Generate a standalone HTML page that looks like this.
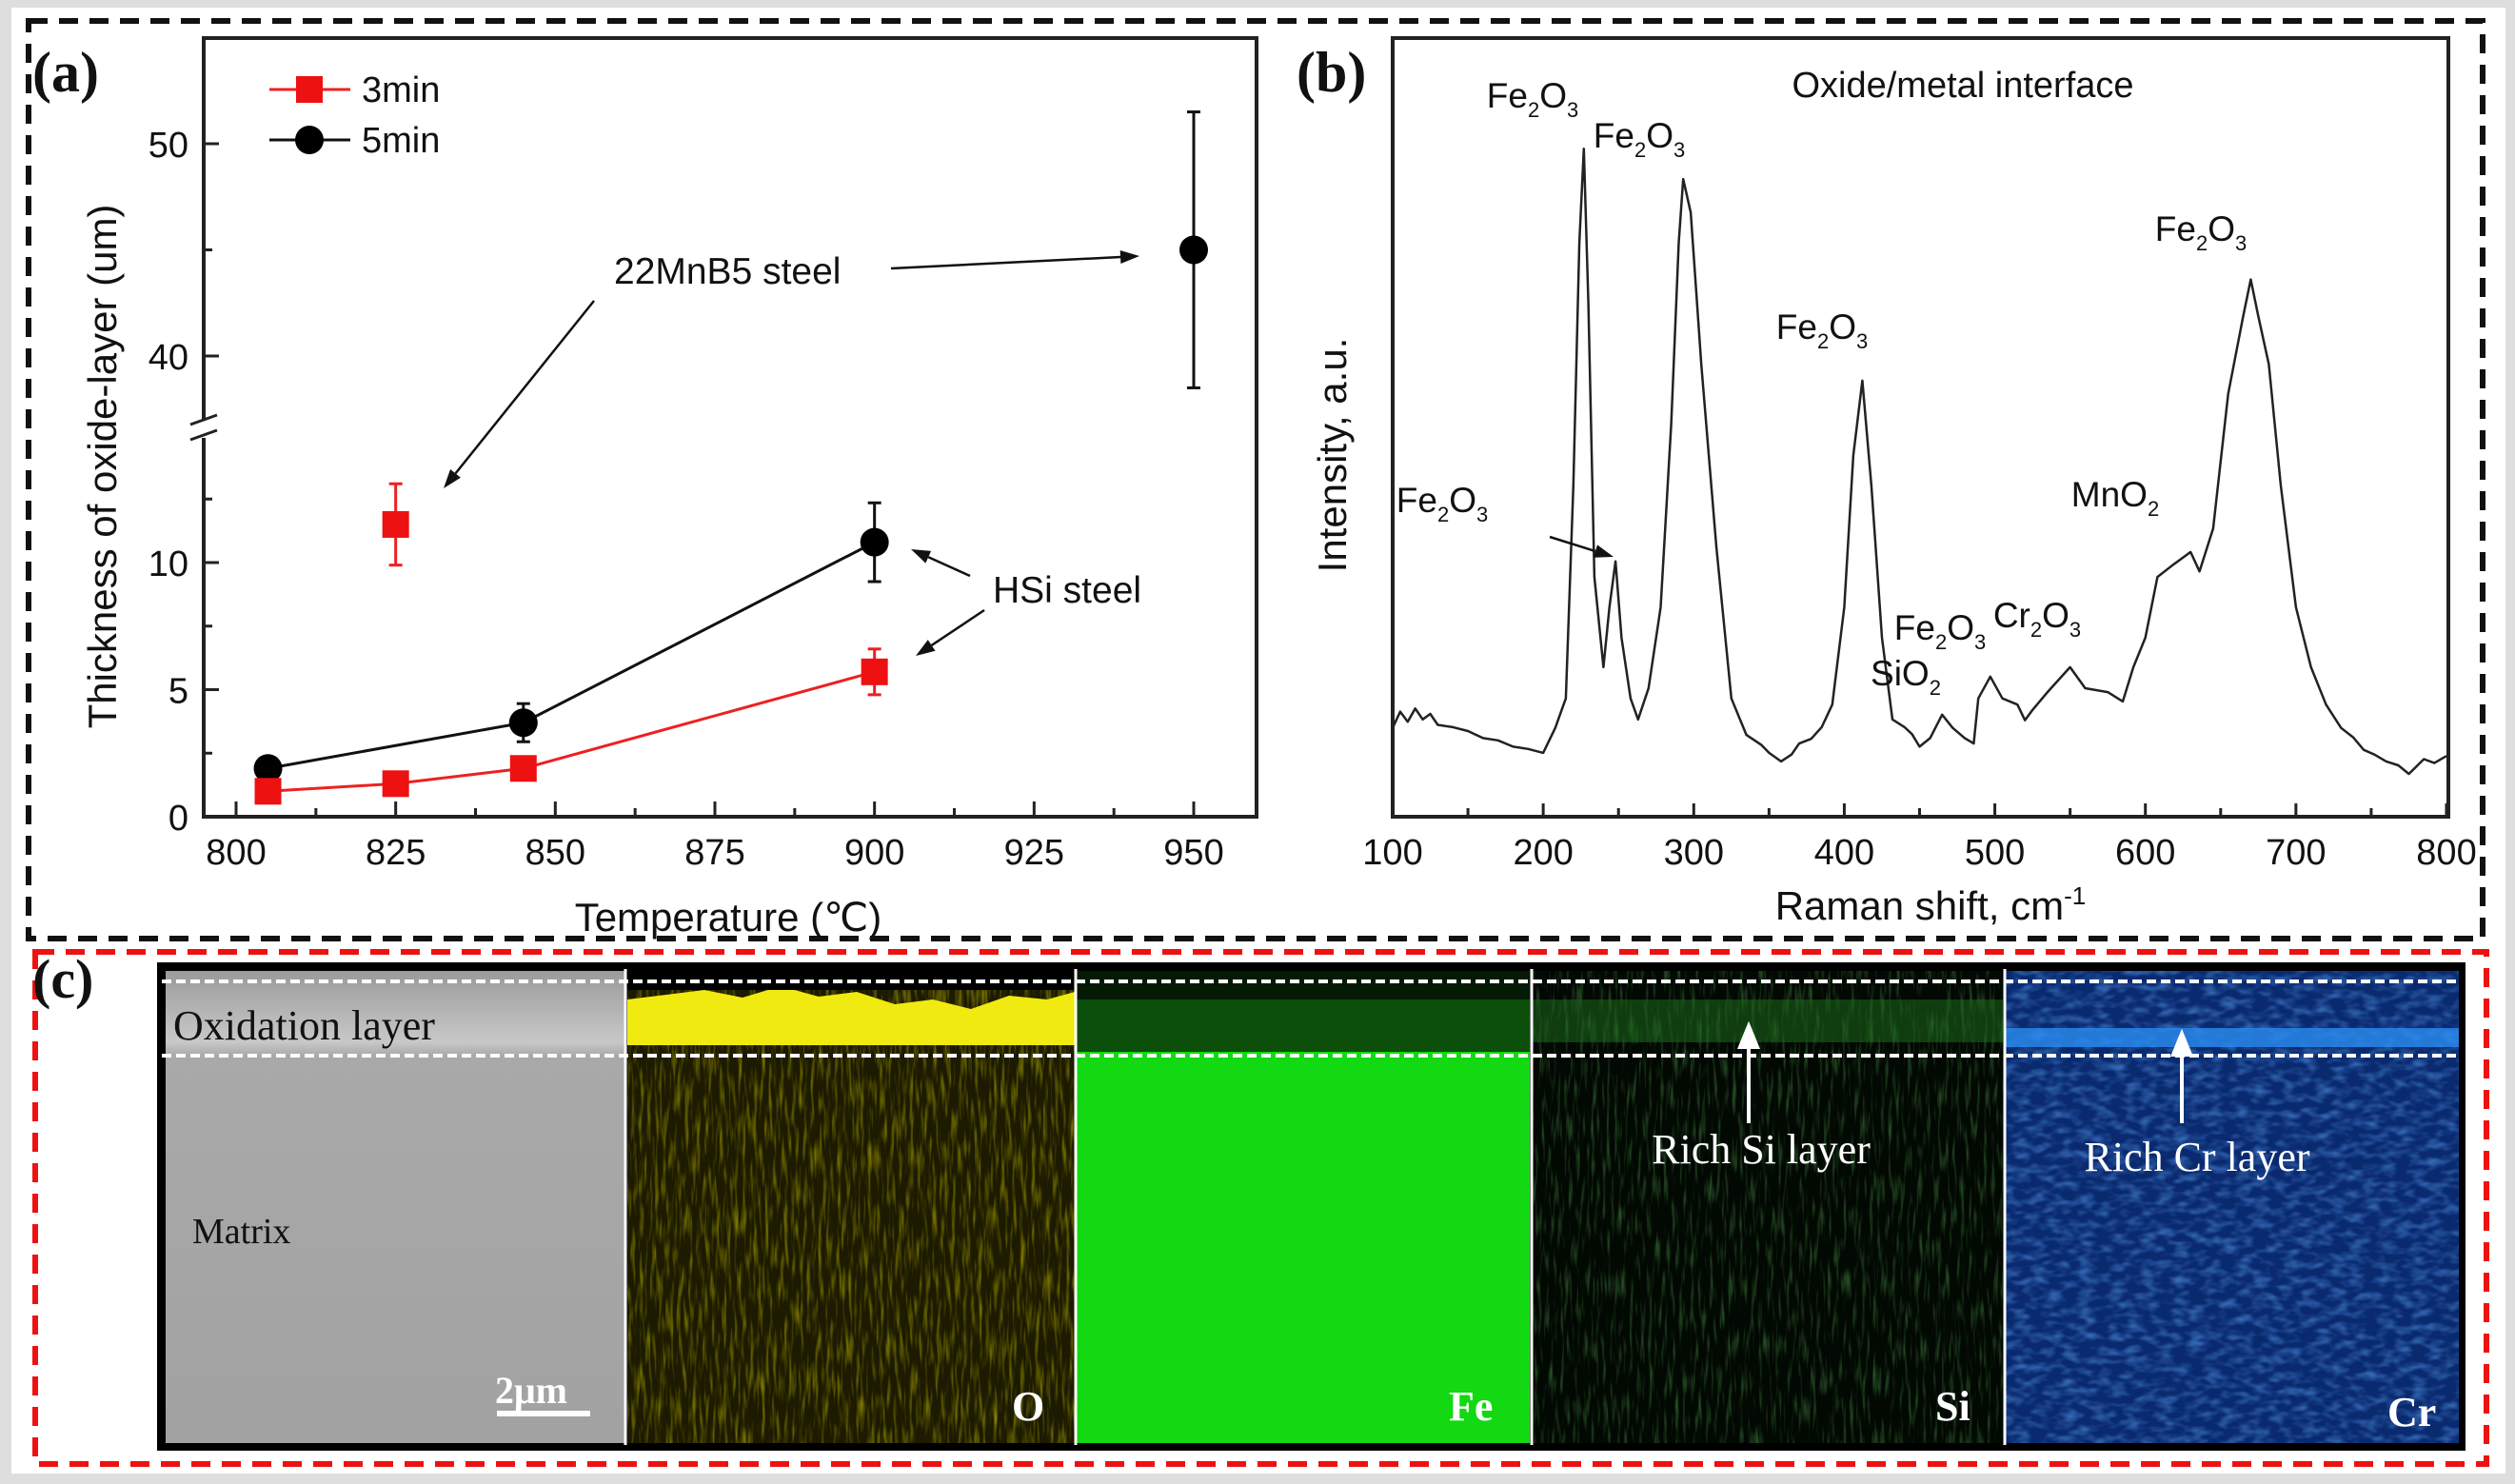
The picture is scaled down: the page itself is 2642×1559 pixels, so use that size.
<!DOCTYPE html>
<html><head><meta charset="utf-8">
<style>
html,body{margin:0;padding:0;background:#dedede;}
svg{display:block;}
text{font-family:"Liberation Sans",sans-serif;}
.serif{font-family:"Liberation Serif",serif;}
</style></head>
<body>
<svg id="fig" width="2642" height="1559" viewBox="0 0 2642 1559" xmlns="http://www.w3.org/2000/svg">
<defs>
<filter id="noiseY" x="0" y="0" width="1" height="1"><feTurbulence type="fractalNoise" baseFrequency="0.25 0.03" numOctaves="2" seed="3"/><feColorMatrix values="0 0 0 0 0.7  0 0 0 0 0.65  0 0 0 0 0  0 0 0 1.2 -0.55"/></filter>
<filter id="noiseG" x="0" y="0" width="1" height="1"><feTurbulence type="fractalNoise" baseFrequency="0.25 0.03" numOctaves="2" seed="7"/><feColorMatrix values="0 0 0 0 0.1  0 0 0 0 0.45  0 0 0 0 0.1  0 0 0 1.1 -0.55"/></filter>
<filter id="noiseB" x="0" y="0" width="1" height="1"><feTurbulence type="fractalNoise" baseFrequency="0.06 0.12" numOctaves="2" seed="5"/><feColorMatrix values="0 0 0 0 0.1  0 0 0 0 0.35  0 0 0 0 0.85  0 0 0 1.2 -0.5"/></filter>
<linearGradient id="grayG" x1="0" y1="0" x2="0" y2="1"><stop offset="0" stop-color="#9a9a9a"/><stop offset="0.15" stop-color="#c8c8c8"/><stop offset="0.18" stop-color="#a9a9a9"/><stop offset="1" stop-color="#a2a2a2"/></linearGradient>
</defs>
<rect x="12" y="8" width="2620" height="1540" fill="#ffffff"/>
<rect x="30" y="22" width="2578" height="964" fill="none" stroke="#111" stroke-width="6" stroke-dasharray="20 12"/>
<rect x="37" y="1000" width="2575" height="538" fill="none" stroke="#ee1111" stroke-width="6" stroke-dasharray="20 12"/>
<g id="pa"></g>
<g id="pb"></g>
<g id="pc">
  <rect x="165" y="1011" width="2425" height="513" fill="#000"/>
  <rect x="174" y="1020" width="483" height="496" fill="url(#grayG)"/>
  <rect x="659" y="1020" width="470" height="496" fill="#1c1a00"/>
  <rect x="659" y="1020" width="470" height="496" filter="url(#noiseY)"/>
  <path d="M659 1050 L700 1045 L740 1040 L780 1048 L820 1036 L860 1047 L900 1042 L940 1055 L980 1050 L1020 1060 L1060 1046 L1100 1050 L1129 1042 L1129 1098 L659 1098 Z" fill="#f0ea10"/>
  <rect x="659" y="1020" width="470" height="20" fill="#000"/>
  <rect x="1131" y="1020" width="476" height="496" fill="#12d912"/>
  <rect x="1131" y="1020" width="476" height="85" fill="#0b4f0b"/>
  <rect x="1131" y="1020" width="476" height="30" fill="#051a05"/>
  <rect x="1610" y="1020" width="494" height="496" fill="#020802"/>
  <rect x="1610" y="1020" width="494" height="496" filter="url(#noiseG)"/>
  <rect x="1610" y="1050" width="494" height="45" fill="#1e6a1e" opacity="0.55"/>
  <rect x="2107" y="1020" width="476" height="496" fill="#0a2a70"/>
  <rect x="2107" y="1020" width="476" height="496" filter="url(#noiseB)"/>
  <rect x="2107" y="1080" width="476" height="20" fill="#2a8cf0" opacity="0.8"/>
  <g stroke="#fff" stroke-width="3">
    <line x1="657" y1="1018" x2="657" y2="1518"/><line x1="1130" y1="1018" x2="1130" y2="1518"/>
    <line x1="1609" y1="1018" x2="1609" y2="1518"/><line x1="2106" y1="1018" x2="2106" y2="1518"/>
  </g>
  <g stroke="#fff" stroke-width="4" stroke-dasharray="10 5">
    <line x1="170" y1="1031" x2="2585" y2="1031"/><line x1="170" y1="1109" x2="2585" y2="1109"/>
  </g>
  <text class="serif" x="182" y="1092" font-size="44" fill="#111">Oxidation  layer</text>
  <text class="serif" x="202" y="1306" font-size="38" fill="#111">Matrix</text>
  <text class="serif" x="520" y="1474" font-size="40" font-weight="bold" fill="#fff">2μm</text>
  <rect x="522" y="1482" width="98" height="6" fill="#fff"/>
  <text class="serif" x="1063" y="1492" font-size="44" font-weight="bold" fill="#fff">O</text>
  <text class="serif" x="1522" y="1492" font-size="44" font-weight="bold" fill="#fff">Fe</text>
  <text class="serif" x="2033" y="1492" font-size="44" font-weight="bold" fill="#fff">Si</text>
  <text class="serif" x="2508" y="1498" font-size="44" font-weight="bold" fill="#fff">Cr</text>
  <text class="serif" x="1850" y="1222" font-size="44" fill="#fff" text-anchor="middle">Rich Si layer</text>
  <text class="serif" x="2308" y="1230" font-size="44" fill="#fff" text-anchor="middle">Rich Cr layer</text>
  <g fill="#fff" stroke="#fff" stroke-width="4">
    <line x1="1837" y1="1180" x2="1837" y2="1095"/><path d="M1837 1078 L1828 1100 L1846 1100 Z"/>
    <line x1="2292" y1="1180" x2="2292" y2="1102"/><path d="M2292 1086 L2283 1108 L2301 1108 Z"/>
  </g>
  <text class="serif" x="34" y="1048" font-size="58" font-weight="bold" fill="#111">(c)</text>
</g>
</svg>
<script>
// ---------- Panel (a) data ----------
const temps3 = [805, 825, 845, 900];
const thick3 = [1.0, 1.3, 1.9, 5.7];
const err3 = [0, 0, 0, 0.9];
const mnbTemp3 = [825];
const mnbThick3 = [11.5];
const mnbErr3 = [1.6];
const temps5 = [805, 845, 900];
const thick5 = [1.9, 3.7, 10.8];
const err5 = [0, 0.75, 1.55];
const mnbTemp5 = [950];
const mnbThick5 = [45];
const mnbErr5 = [6.5];
const xTicksA = [800, 825, 850, 875, 900, 925, 950];
const yTicksLow = [0, 5, 10];
const yTicksHigh = [40, 50];
// ---------- Panel (b) data ----------
const ramanShift = [100,105,110,115,120,125,130,140,150,160,170,180,190,200,208,215,220,224,227,230,234,240,244,248,252,258,263,270,278,285,290,293,298,305,315,325,335,345,350,358,365,370,378,385,392,400,406,412,418,425,432,440,445,450,457,465,472,480,486,489,497,505,515,520,525,535,550,560,575,585,592,600,608,618,630,636,645,655,665,670,675,682,690,700,710,720,730,738,745,752,760,768,775,785,792,800];
const intensity = [11.4,13.5,12.2,13.9,12.5,13.2,11.8,11.5,11.0,10.1,9.8,9.0,8.7,8.2,11.4,15.2,42.5,73.7,85.8,65.9,30.8,19.2,26.9,32.8,23,15.2,12.5,16.5,26.9,50.4,73.7,81.9,77.6,58.1,34.7,15.2,10.5,9.2,8.2,7.1,8.0,9.4,10.0,11.5,14.4,26.9,46.4,56,42.5,23,12.5,11.5,10.6,9,10.1,13.1,11.4,10.1,9.4,15.2,18.0,15.2,14.4,12.4,13.7,16,19.2,16.5,16,14.8,19.2,23,30.8,32.3,34,31.5,37,54.3,64.3,69,64.3,58.1,42.5,26.9,19.2,14.4,11.4,10.2,8.6,8.0,7.1,6.6,5.5,7.4,6.9,7.8];
const xTicksB = [100, 200, 300, 400, 500, 600, 700, 800];

const NS = 'http://www.w3.org/2000/svg';
function mk(parent, tag, attrs, txt){const e=document.createElementNS(NS,tag);for(const k in attrs)e.setAttribute(k,attrs[k]);if(txt!==undefined)e.textContent=txt;parent.appendChild(e);return e;}

// ---------- Panel (a) ----------
const pa = document.getElementById('pa');
const A = {l:214, t:40, r:1320, b:858};
const xA = t => 248 + (t-800)*(1254-248)/150;
const yLow = v => 858 - v*26.7;
const yHigh = v => 374 - (v-40)*22.3;
mk(pa,'rect',{x:A.l,y:A.t,width:A.r-A.l,height:A.b-A.t,fill:'none',stroke:'#222','stroke-width':4});
const brk = mk(pa,'rect',{x:A.l-6,y:440,width:12,height:20,fill:'#fff'});


mk(pa,'line',{x1:A.l-14,y1:446,x2:A.l+14,y2:436,stroke:'#222','stroke-width':3});
mk(pa,'line',{x1:A.l-14,y1:462,x2:A.l+14,y2:452,stroke:'#222','stroke-width':3});
for(let t=800;t<=962;t+=12.5){
  const major = xTicksA.includes(t);
  mk(pa,'line',{x1:xA(t),y1:A.b,x2:xA(t),y2:A.b-(major?16:9),stroke:'#222','stroke-width':3});
}
xTicksA.forEach(t=>{
  const e=mk(pa,'text',{x:xA(t),y:908,'font-size':38,'text-anchor':'middle',fill:'#111'},String(t));
  
  
});
[0,2.5,5,7.5,10,12.5].forEach(v=>{const major=yTicksLow.includes(v);mk(pa,'line',{x1:A.l,y1:yLow(v),x2:A.l+(major?16:9),y2:yLow(v),stroke:'#222','stroke-width':3});});
[40,45,50].forEach(v=>{const major=yTicksHigh.includes(v);mk(pa,'line',{x1:A.l,y1:yHigh(v),x2:A.l+(major?16:9),y2:yHigh(v),stroke:'#222','stroke-width':3});});
yTicksLow.forEach(v=>{const e=mk(pa,'text',{x:198,y:yLow(v)+14,'font-size':38,'text-anchor':'end',fill:'#111'},String(v));
  
  });
yTicksHigh.forEach(v=>{const e=mk(pa,'text',{x:198,y:yHigh(v)+14,'font-size':38,'text-anchor':'end',fill:'#111'},String(v));
  
  });
let e;
e=mk(pa,'text',{x:0,y:0,'font-size':42,'text-anchor':'middle',fill:'#111',transform:'translate(122,490) rotate(-90)'},'Thickness of oxide-layer (um)');


e=mk(pa,'text',{x:765,y:978,'font-size':42,'text-anchor':'middle',fill:'#111'},'Temperature (℃)');


e=mk(pa,'text',{x:34,y:96,'font-size':60,'font-weight':'bold',fill:'#111',class:'serif'},'(a)');


e=mk(pa,'polyline',{points:temps5.map((t,i)=>xA(t)+','+yLow(thick5[i])).join(' '),fill:'none',stroke:'#111','stroke-width':3});


e=mk(pa,'polyline',{points:temps3.map((t,i)=>xA(t)+','+yLow(thick3[i])).join(' '),fill:'none',stroke:'#ee2020','stroke-width':3});


function errbar(x,y1,y2,col){mk(pa,'line',{x1:x,y1:y1,x2:x,y2:y2,stroke:col,'stroke-width':3});mk(pa,'line',{x1:x-7,y1:y1,x2:x+7,y2:y1,stroke:col,'stroke-width':3});mk(pa,'line',{x1:x-7,y1:y2,x2:x+7,y2:y2,stroke:col,'stroke-width':3});}
function square(x,y,name){const s=mk(pa,'rect',{x:x-14,y:y-14,width:28,height:28,fill:'#ee1111'});
  
  }
function circ(x,y,name){const c=mk(pa,'circle',{cx:x,cy:y,r:15,fill:'#000'});
  
  }
temps5.forEach((t,i)=>{if(err5[i])errbar(xA(t),yLow(thick5[i]-err5[i]),yLow(thick5[i]+err5[i]),'#111');circ(xA(t),yLow(thick5[i]),'point-5min-'+t);});
temps3.forEach((t,i)=>{if(err3[i])errbar(xA(t),yLow(thick3[i]-err3[i]),yLow(thick3[i]+err3[i]),'#ee2020');square(xA(t),yLow(thick3[i]),'point-3min-'+t);});
mnbTemp3.forEach((t,i)=>{errbar(xA(t),yLow(mnbThick3[i]-mnbErr3[i]),yLow(mnbThick3[i]+mnbErr3[i]),'#ee2020');square(xA(t),yLow(mnbThick3[i]),'point-3min-22mnb5-'+t);});
mnbTemp5.forEach((t,i)=>{errbar(xA(t),yHigh(mnbThick5[i]-mnbErr5[i]),yHigh(mnbThick5[i]+mnbErr5[i]),'#111');circ(xA(t),yHigh(mnbThick5[i]),'point-5min-22mnb5-'+t);});
mk(pa,'line',{x1:283,y1:94,x2:368,y2:94,stroke:'#ee2020','stroke-width':3});square(325,94,'legend-3min-marker');
mk(pa,'line',{x1:283,y1:147,x2:368,y2:147,stroke:'#111','stroke-width':3});circ(325,147,'legend-5min-marker');
e=mk(pa,'text',{x:380,y:107,'font-size':38,fill:'#111'},'3min');


e=mk(pa,'text',{x:380,y:160,'font-size':38,fill:'#111'},'5min');


function arrow(p,x1,y1,x2,y2,name){const g=mk(p,'g',{});
  
  
  const dx=x2-x1,dy=y2-y1,L=Math.hypot(dx,dy),ux=dx/L,uy=dy/L,h=20,w=7;
  mk(g,'line',{x1:x1,y1:y1,x2:x2-ux*h,y2:y2-uy*h,stroke:'#111','stroke-width':2.5});
  mk(g,'path',{d:`M${x2} ${y2} L${x2-ux*h-uy*w} ${y2-uy*h+ux*w} L${x2-ux*h+uy*w} ${y2-uy*h-ux*w} Z`,fill:'#111'});}
e=mk(pa,'text',{x:645,y:298,'font-size':39,fill:'#111'},'22MnB5 steel');


arrow(pa,624,316,466,513,'arrow-22mnb5-3min');
arrow(pa,936,282,1197,269,'arrow-22mnb5-5min');
e=mk(pa,'text',{x:1043,y:633,'font-size':39,fill:'#111'},'HSi steel');


arrow(pa,1019,605,957,577,'arrow-hsi-5min');
arrow(pa,1034,641,962,689,'arrow-hsi-3min');

// ---------- Panel (b) ----------
const pb = document.getElementById('pb');
const B = {l:1463, t:40, r:2572, b:858};
const xB = c => 1463 + (c-100)*(2570-1463)/700;
const yB = v => 858 - v*8.18;
mk(pb,'rect',{x:B.l,y:B.t,width:B.r-B.l,height:B.b-B.t,fill:'none',stroke:'#222','stroke-width':4});
for(let c=100;c<=800;c+=50){const major=xTicksB.includes(c);mk(pb,'line',{x1:xB(c),y1:B.b,x2:xB(c),y2:B.b-(major?14:9),stroke:'#222','stroke-width':3});}
xTicksB.forEach(c=>{e=mk(pb,'text',{x:xB(c),y:908,'font-size':38,'text-anchor':'middle',fill:'#111'},String(c));
  
  });
e=mk(pb,'polyline',{points:ramanShift.map((c,i)=>xB(c).toFixed(1)+','+yB(intensity[i]).toFixed(1)).join(' '),fill:'none',stroke:'#222','stroke-width':2.5,'stroke-linejoin':'round'});


e=mk(pb,'text',{x:0,y:0,'font-size':42,'text-anchor':'middle',fill:'#111',transform:'translate(1414,478) rotate(-90)'},'Intensity, a.u.');


const xt=mk(pb,'text',{x:2028,y:966,'font-size':42,'text-anchor':'middle',fill:'#111'});


xt.innerHTML='Raman shift, cm<tspan dy="-16" font-size="26">-1</tspan>';
e=mk(pb,'text',{x:1362,y:96,'font-size':60,'font-weight':'bold',fill:'#111',class:'serif'},'(b)');


e=mk(pb,'text',{x:2062,y:102,'font-size':38,'text-anchor':'middle',fill:'#111'},'Oxide/metal interface');


function chem(x,y,a,s1,b,s2,name){const t=mk(pb,'text',{x:x,y:y,'font-size':37,'text-anchor':'middle',fill:'#111'});
  
  
  t.innerHTML=`${a}<tspan dy="10" font-size="22">${s1}</tspan><tspan dy="-10">${b}</tspan>`+(s2?`<tspan dy="10" font-size="22">${s2}</tspan>`:'');}
chem(1610,113,'Fe','2','O','3','peak-label-fe2o3-227');
chem(1722,155,'Fe','2','O','3','peak-label-fe2o3-293');
chem(1914,356,'Fe','2','O','3','peak-label-fe2o3-412');
chem(2312,253,'Fe','2','O','3','peak-label-fe2o3-670');
chem(1515,538,'Fe','2','O','3','peak-label-fe2o3-248');
chem(2222,532,'MnO','2','','', 'peak-label-mno2');
chem(2002,720,'SiO','2','','', 'peak-label-sio2');
chem(2038,672,'Fe','2','O','3','peak-label-fe2o3-497');
chem(2140,659,'Cr','2','O','3','peak-label-cr2o3');
arrow(pb,1628,564,1695,585,'arrow-fe2o3-248');
</script>
</body></html>
